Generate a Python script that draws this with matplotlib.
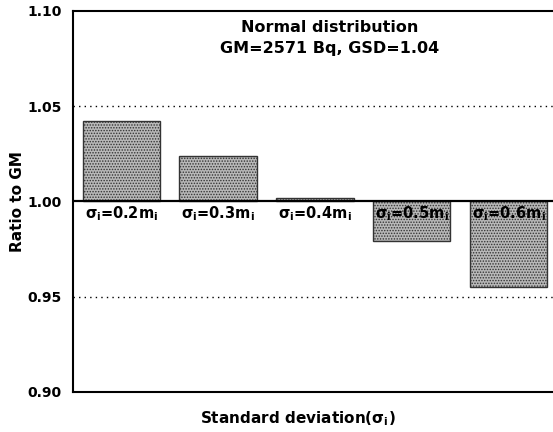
import matplotlib
matplotlib.use("Agg")
import matplotlib.pyplot as plt

# data
labels = ["0.2", "0.3", "0.4", "0.5", "0.6"]
ratios = [1.042, 1.024, 1.002, 0.979, 0.955]
yticks = [0.90, 0.95, 1.00, 1.05, 1.10]

plt.rcParams["font.family"] = ["DejaVu Sans"]
plt.rcParams["font.weight"] = "bold"
plt.rcParams["mathtext.default"] = "bf"
plt.rcParams["hatch.color"] = "#6e6e6e"
plt.rcParams["hatch.linewidth"] = 0.7

fig = plt.figure(figsize=(5.53, 4.32), dpi=100)
ax = fig.add_axes([0.132, 0.0926, 0.875, 0.882])

pos = list(range(1, len(ratios) + 1))
heights = [r - 1.0 for r in ratios]
ax.bar(pos, heights, bottom=1.0, width=0.8, color="#b8b8b8",
       edgecolor="#333333", linewidth=1.0, hatch="......", zorder=3)

# labels under the baseline
for x, lab in zip(pos, labels):
    ax.text(x, 0.9985, r"$\sigma_i$=" + lab + r"m$_i$",
            ha="center", va="top", fontsize=10.5, fontweight="bold", zorder=4)

ax.axhline(1.0, color="black", linewidth=1.6, zorder=4)
for g in (0.95, 1.05):
    ax.axhline(g, color="black", linewidth=1.0, linestyle=(0, (1, 3)), zorder=1)

ax.set_xlim(0.5, 5.5)
ax.set_ylim(0.90, 1.10)
ax.set_yticks(yticks)
ax.set_yticklabels([f"{t:.2f}" for t in yticks], fontsize=10, fontweight="bold")
ax.set_xticks([])
ax.tick_params(axis="y", length=0, pad=8)

for s in ("left", "top", "bottom"):
    ax.spines[s].set_linewidth(1.5)
ax.spines["right"].set_visible(False)

ax.text(0.531, 0.975, "Normal distribution\nGM=2571 Bq, GSD=1.04",
        transform=ax.transAxes, ha="center", va="top", fontsize=11.5,
        fontweight="bold", linespacing=1.45)

ax.set_ylabel("Ratio to GM", fontsize=11, fontweight="bold")
ax.yaxis.set_label_coords(-0.1, 0.5)
ax.set_xlabel(r"Standard deviation($\sigma_i$)", fontsize=11,
              fontweight="bold")
ax.xaxis.set_label_coords(0.465, -0.045)

fig.savefig("out.png", dpi=100)
